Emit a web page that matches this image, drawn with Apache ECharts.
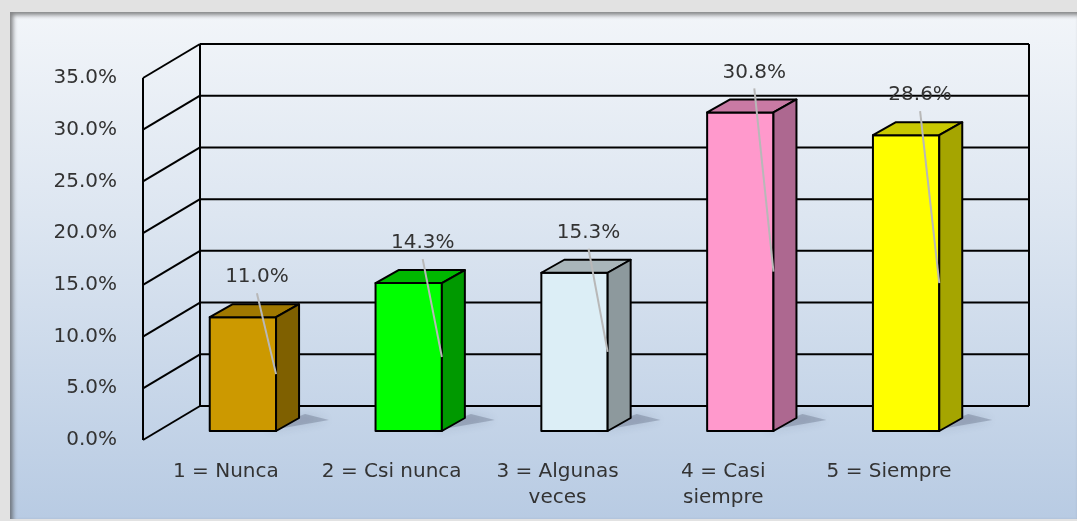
<!DOCTYPE html>
<html><head><meta charset="utf-8">
<script src="https://cdn.jsdelivr.net/npm/echarts@6/dist/echarts.min.js"></script>
<style>
html,body{margin:0;padding:0;width:1077px;height:521px;overflow:hidden;background:#e2e2e2;}
#frame{position:absolute;left:10px;top:12px;width:1067px;height:507px;background:linear-gradient(to bottom,#f2f5f9 0%,#dde6f1 40%,#b8cbe3 100%);box-shadow:inset 3px 3px 4px rgba(70,70,70,0.65);}
#main{position:absolute;left:0;top:0;width:1077px;height:521px;}
</style></head>
<body><div id="frame"></div><div id="main"></div>
<script>
// ---- data ----
const categories = ['1 = Nunca', '2 = Csi nunca', '3 = Algunas\nveces', '4 = Casi\nsiempre', '5 = Siempre'];
const values = [11.0, 14.3, 15.3, 30.8, 28.6];
const yTicks = [0, 5, 10, 15, 20, 25, 30, 35];

// ---- style ----
const faceColors = [
  {front: '#CC9900', top: '#A07800', side: '#7F6000'},
  {front: '#00FF00', top: '#00B800', side: '#009900'},
  {front: '#DCEEF6', top: '#A9B6BA', side: '#8D999D'},
  {front: '#FF99CC', top: '#C97AA4', side: '#AD6890'},
  {front: '#FFFF00', top: '#C8C800', side: '#A5A500'}
];
const FONT = 'DejaVu Sans';
const TXT = '#333333';
const WALL_DX = 57, WALL_DY = 34;   // back wall offset
const BAR_DX = 17, BAR_DY = 9;      // bar front offset from front plane
const DEP_X = 23, DEP_Y = 13;       // bar depth

const chart = echarts.init(document.getElementById('main'), null, {renderer: 'canvas'});

function renderWalls(params, api) {
  const cs = params.coordSys;
  const v = api.value(0);
  const y = api.coord([0, v])[1];
  const x0 = cs.x, x1 = cs.x + cs.width;
  const st = {stroke: '#000', lineWidth: 2};
  const children = [
    {type: 'line', shape: {x1: x0, y1: y, x2: x0 + WALL_DX, y2: y - WALL_DY}, style: st},
    {type: 'line', shape: {x1: x0 + WALL_DX, y1: y - WALL_DY, x2: x1 + WALL_DX, y2: y - WALL_DY}, style: st}
  ];
  if (params.dataIndex === 0) {
    const yTop = api.coord([0, yTicks[yTicks.length - 1]])[1];
    children.push({type: 'line', shape: {x1: x0, y1: y, x2: x0, y2: yTop}, style: st});
    children.push({type: 'line', shape: {x1: x0 + WALL_DX, y1: y - WALL_DY, x2: x0 + WALL_DX, y2: yTop - WALL_DY}, style: st});
    children.push({type: 'line', shape: {x1: x1 + WALL_DX, y1: y - WALL_DY, x2: x1 + WALL_DX, y2: yTop - WALL_DY}, style: st});
  }
  return {type: 'group', children};
}

function renderBar(params, api) {
  const i = api.value(0), v = api.value(1);
  const top = api.coord([i, v]);
  const base = api.coord([i, 0]);
  const band = api.size([1, 0])[0];
  const w = band * 0.4;
  const cx = top[0] + BAR_DX;
  const yb = base[1] - BAR_DY;
  const yt = top[1] - BAR_DY;
  const l = cx - w / 2, r = cx + w / 2;
  const c = faceColors[i];
  const edge = {stroke: '#000', lineWidth: 2, lineJoin: 'round'};
  const lx = cx + 14, ly = yt - 40;
  return {type: 'group', children: [
    {type: 'polygon', shape: {points: [[r - 10, yb], [r + DEP_X + 30, yb - DEP_Y + 2], [r + DEP_X + 6, yb - DEP_Y - 4], [r, yb - 6]]},
      style: {fill: 'rgba(50,60,85,0.25)', shadowBlur: 10, shadowColor: 'rgba(50,60,85,0.6)'}, z2: 0},
    {type: 'rect', shape: {x: l, y: yt, width: w, height: yb - yt}, style: Object.assign({fill: c.front}, edge), z2: 2},
    {type: 'polygon', shape: {points: [[l, yt], [r, yt], [r + DEP_X, yt - DEP_Y], [l + DEP_X, yt - DEP_Y]]}, style: Object.assign({fill: c.top}, edge), z2: 2},
    {type: 'polygon', shape: {points: [[r, yt], [r + DEP_X, yt - DEP_Y], [r + DEP_X, yb - DEP_Y], [r, yb]]}, style: Object.assign({fill: c.side}, edge), z2: 2},
    {type: 'line', shape: {x1: lx, y1: ly + 16, x2: r, y2: (yt + yb) / 2}, style: {stroke: '#b8b8b8', lineWidth: 2}, z2: 3},
    {type: 'text', x: lx, y: ly, style: {text: v.toFixed(1) + '%', fill: TXT, font: '20px "' + FONT + '"', align: 'center', verticalAlign: 'middle'}, z2: 4}
  ]};
}

chart.setOption({
  animation: false,
  grid: {left: 143, right: 105, top: 78, bottom: 81},
  xAxis: {
    type: 'category', data: categories,
    axisLine: {show: false}, axisTick: {show: false},
    axisLabel: {color: TXT, fontFamily: FONT, fontSize: 20, margin: 19, lineHeight: 26, interval: 0}
  },
  yAxis: {
    type: 'value', min: yTicks[0], max: yTicks[yTicks.length - 1], interval: 5,
    axisLine: {show: false}, axisTick: {show: false}, splitLine: {show: false},
    axisLabel: {color: TXT, fontFamily: FONT, fontSize: 20, margin: 26, formatter: v => v.toFixed(1) + '%'}
  },
  series: [
    {type: 'custom', renderItem: renderWalls, data: yTicks.map(t => [t]), silent: true, z: 1,
      encode: {y: 0}},
    {type: 'custom', renderItem: renderBar, data: values.map((v, i) => [i, v]), silent: true, z: 2,
      encode: {x: 0, y: 1}}
  ]
});
</script>
</body></html>
